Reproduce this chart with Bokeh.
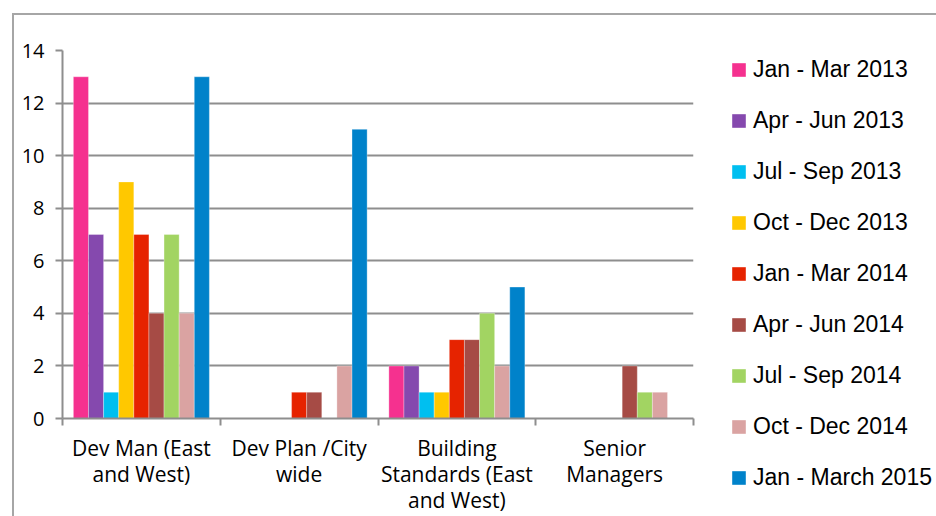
from bokeh.plotting import figure
from bokeh.models import (Range1d, FixedTicker, Legend, LegendItem, ColumnDataSource,
                          InlineStyleSheet)
from bokeh.embed import file_html
from bokeh.resources import INLINE

# Teams (x categories) and quarterly counts per series
categories = ["Dev Man (East\nand West)", "Dev Plan /City\nwide",
              "Building\nStandards (East\nand West)", "Senior\nManagers"]
periods = ["Jan - Mar 2013", "Apr - Jun 2013", "Jul - Sep 2013", "Oct - Dec 2013",
           "Jan - Mar 2014", "Apr - Jun 2014", "Jul - Sep 2014", "Oct - Dec 2014",
           "Jan - March 2015"]
jan_mar_2013 = [13, 0, 2, 0]
apr_jun_2013 = [7, 0, 2, 0]
jul_sep_2013 = [1, 0, 1, 0]
oct_dec_2013 = [9, 0, 1, 0]
jan_mar_2014 = [7, 1, 3, 0]
apr_jun_2014 = [4, 1, 3, 2]
jul_sep_2014 = [7, 0, 4, 1]
oct_dec_2014 = [4, 2, 2, 1]
jan_mar_2015 = [13, 11, 5, 0]
y_ticks = [0, 2, 4, 6, 8, 10, 12, 14]

series = [jan_mar_2013, apr_jun_2013, jul_sep_2013, oct_dec_2013, jan_mar_2014,
          apr_jun_2014, jul_sep_2014, oct_dec_2014, jan_mar_2015]
colors = ["#F5318F", "#8549AE", "#00BFF0", "#FFC800", "#E62300",
          "#A64B45", "#A2D462", "#DAA3A2", "#0082CA"]

GRID = "#8E8E8E"
EDGE = "#A6A6A6"


def edge_css(left_edge):
    # thin grey frame round the whole chart (top and left edges show)
    left_rule = f"border-left: 2.5px solid {EDGE}; left: 12px;" if left_edge else "left: 0;"
    return InlineStyleSheet(css=f"""
:host::after {{
  content: "";
  position: absolute;
  {left_rule}
  top: 13px; right: 0; bottom: 0;
  border-top: 2.5px solid {EDGE};
  box-sizing: border-box;
  pointer-events: none;
  z-index: 10;
}}
""")


p = figure(width=700, height=516, output_backend="svg", toolbar_location=None,
           x_range=Range1d(0, 4), y_range=Range1d(0, 14),
           min_border_left=62, min_border_right=7, min_border_top=50,
           min_border_bottom=96, stylesheets=[edge_css(True)])
p.outline_line_color = None
p.background_fill_color = "white"

# legend panel to the right of the bars; it shares the bar sources, but its
# value range sits above every bar so only the legend swatches are seen
lg = figure(width=236, height=516, output_backend="svg", toolbar_location=None,
            x_axis_type=None, y_axis_type=None,
            min_border_left=30, min_border_top=56, min_border_right=0,
            min_border_bottom=0,
            x_range=Range1d(0, 4), y_range=Range1d(20, 34),
            stylesheets=[edge_css(False)],
            styles={"position": "absolute", "left": "700px", "top": "0px"})
lg.outline_line_color = None
lg.grid.grid_line_color = None

# grouped bars: each category spans one unit, bars side by side
bar_w = 0.0958
start = 0.5 - bar_w * len(series) / 2 + bar_w / 2
items = []
for k, (vals, col, name) in enumerate(zip(series, colors, periods)):
    xs = [i + start + k * bar_w for i in range(len(categories))]
    src = ColumnDataSource(dict(x=xs, top=vals))
    p.vbar(x="x", top="top", bottom=0, width=bar_w, source=src,
           fill_color=col, line_color="white", line_width=0.6, line_alpha=0.5)
    r = lg.vbar(x="x", top="top", bottom=0, width=bar_w, source=src,
                fill_color=col, line_color=None)
    items.append(LegendItem(label=name, renderers=[r]))

# y axis & grid
p.yaxis.ticker = FixedTicker(ticks=y_ticks)
p.yaxis.axis_line_color = GRID
p.yaxis.axis_line_width = 2
p.yaxis.major_tick_line_color = GRID
p.yaxis.major_tick_line_width = 2
p.yaxis.major_tick_out = 7
p.yaxis.major_tick_in = 0
p.yaxis.minor_tick_line_color = None
p.yaxis.major_label_standoff = 11
p.yaxis.major_label_text_font = "Open Sans"
p.yaxis.major_label_text_font_size = "20px"
p.yaxis.major_label_text_color = "#000000"
p.ygrid.grid_line_color = GRID
p.ygrid.grid_line_width = 2
p.ygrid.grid_line_alpha = 1.0
p.xgrid.grid_line_color = None

# x axis: labels at category centres, tick marks at category boundaries
centers = [i + 0.5 for i in range(len(categories))]
p.xaxis.ticker = FixedTicker(ticks=centers,
                             minor_ticks=list(range(len(categories) + 1)))
p.xaxis.major_label_overrides = {c: lab for c, lab in zip(centers, categories)}
p.xaxis.axis_line_color = GRID
p.xaxis.axis_line_width = 2
p.xaxis.major_tick_line_color = None
p.xaxis.minor_tick_line_color = GRID
p.xaxis.minor_tick_line_width = 2
p.xaxis.minor_tick_out = 7
p.xaxis.minor_tick_in = 0
p.xaxis.major_label_standoff = 8
p.xaxis.major_label_text_font = "Open Sans"
p.xaxis.major_label_text_font_size = "21px"
p.xaxis.major_label_text_color = "#000000"
p.xaxis.major_label_text_line_height = 0.93

legend = Legend(items=items, location="top_left", orientation="vertical",
                padding=0, margin=0, spacing=24, label_height=27,
                glyph_width=17, glyph_height=17, label_standoff=6,
                border_line_color=None, background_fill_alpha=0,
                label_text_font="Liberation Sans", label_text_font_size="23px",
                label_text_color="#000000")
lg.add_layout(legend)

open("out.html", "w").write(file_html([p, lg], INLINE))
